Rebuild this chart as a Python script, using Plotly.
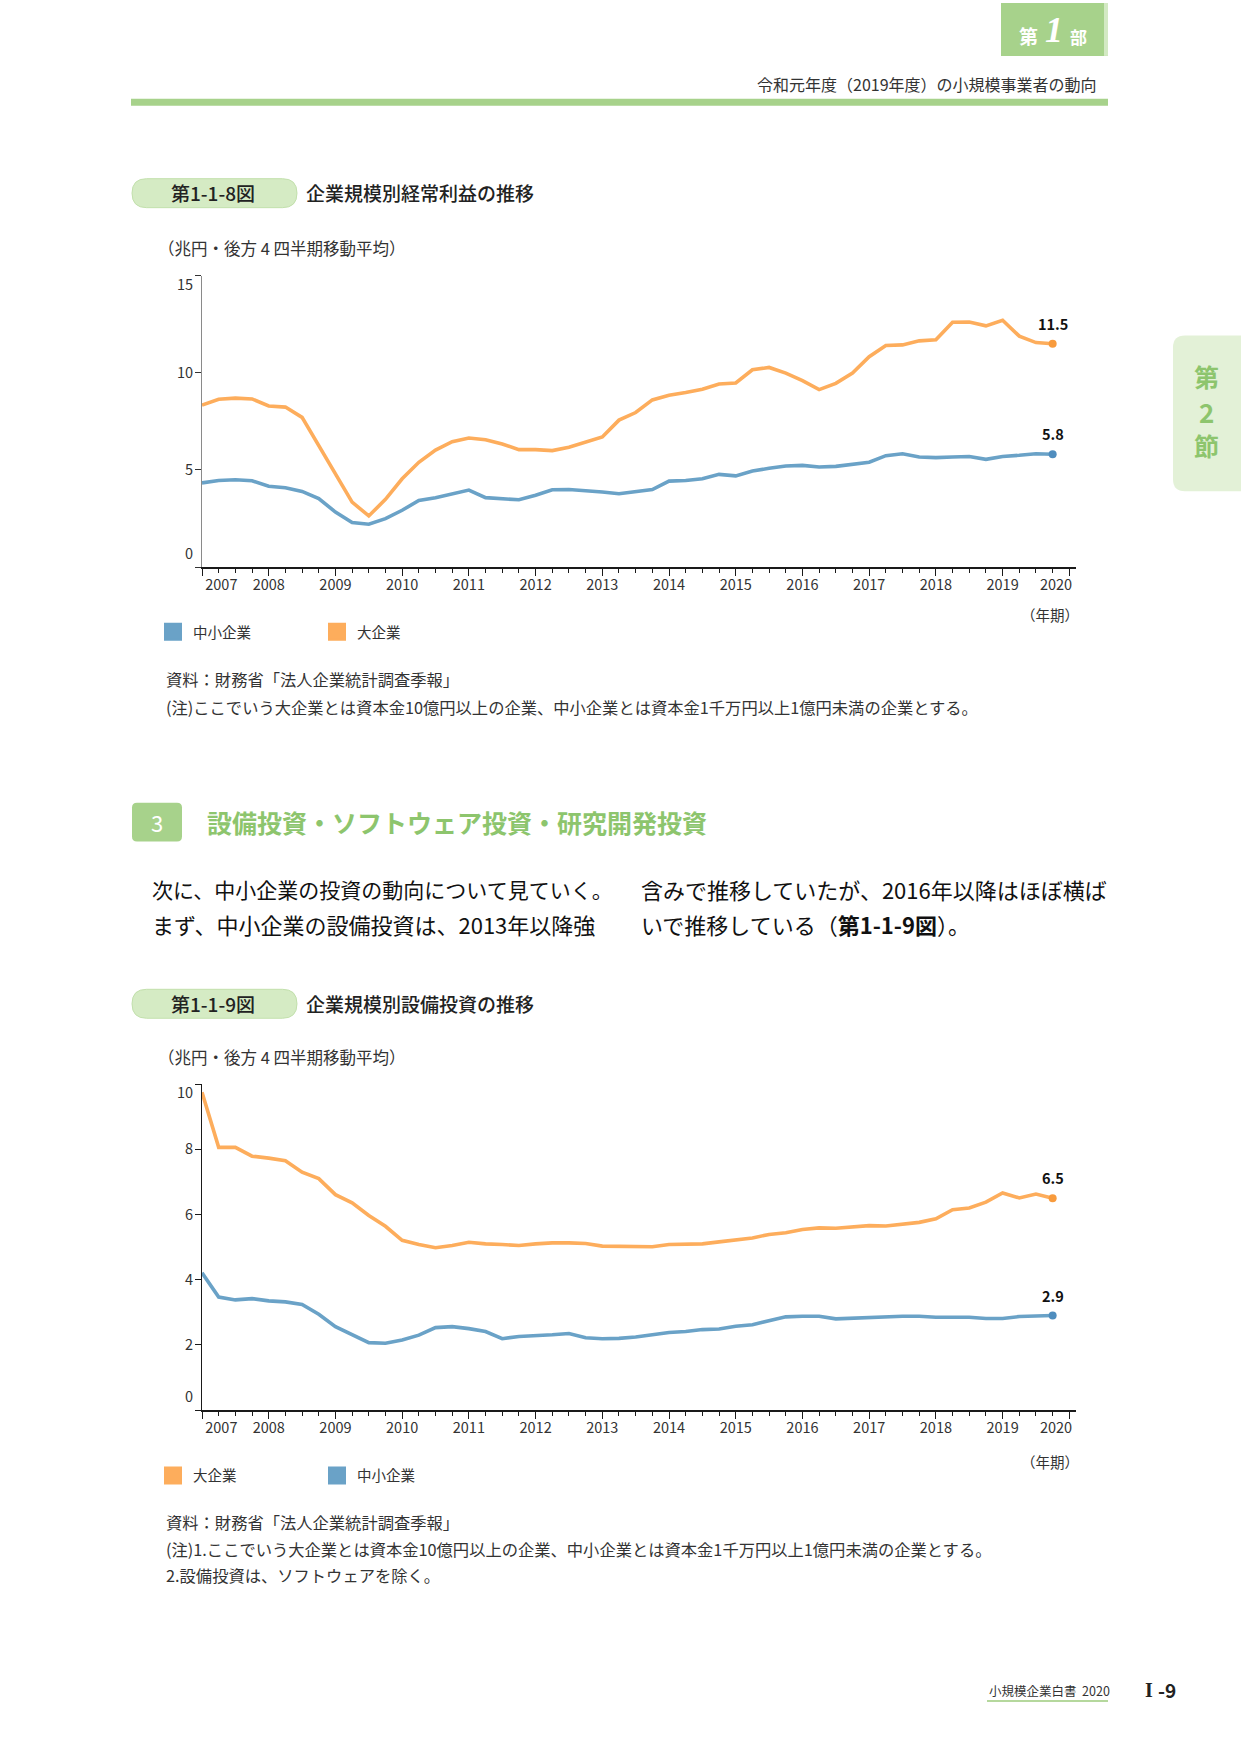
import plotly.graph_objects as go

W, H = 1241, 1754
FONT = "Noto Sans CJK JP, Noto Sans, sans-serif"

# ---------------- data (quarterly, 4-quarter backward moving average, trillion yen) -------------
START_YEAR = 2007
YEAR_LABELS = ["2007", "2008", "2009", "2010", "2011", "2012", "2013",
               "2014", "2015", "2016", "2017", "2018", "2019", "2020"]
NAME_LARGE = "大企業"
NAME_SME = "中小企業"

# 第1-1-8図 経常利益
PROFIT_LARGE = [8.33, 8.63, 8.69, 8.65, 8.29, 8.23, 7.70, 6.25, 4.71, 3.34, 2.63, 3.48, 4.54,
                5.39, 6.02, 6.45, 6.64, 6.55, 6.33, 6.04, 6.04, 5.99, 6.16, 6.42, 6.69, 7.56,
                7.95, 8.60, 8.84, 8.98, 9.15, 9.42, 9.47, 10.15, 10.27, 9.98, 9.59, 9.13, 9.45,
                9.98, 10.82, 11.40, 11.43, 11.64, 11.69, 12.60, 12.61, 12.41, 12.70, 11.88,
                11.55, 11.49]
PROFIT_SME = [4.33, 4.45, 4.49, 4.44, 4.16, 4.08, 3.89, 3.52, 2.83, 2.29, 2.20, 2.49, 2.92,
              3.43, 3.57, 3.77, 3.96, 3.57, 3.52, 3.46, 3.69, 3.98, 3.99, 3.94, 3.86, 3.77,
              3.86, 3.99, 4.42, 4.45, 4.54, 4.77, 4.69, 4.94, 5.08, 5.20, 5.23, 5.15, 5.18,
              5.28, 5.39, 5.73, 5.83, 5.66, 5.63, 5.66, 5.69, 5.54, 5.69, 5.75, 5.83, 5.80]
Y1_TICKS = [0, 5, 10, 15]

# 第1-1-9図 設備投資
CAPEX_LARGE = [9.75, 8.06, 8.06, 7.79, 7.73, 7.65, 7.30, 7.10, 6.61, 6.36, 5.97, 5.64, 5.21,
               5.08, 4.98, 5.05, 5.15, 5.10, 5.08, 5.05, 5.10, 5.13, 5.13, 5.11, 5.03, 5.03,
               5.03, 5.01, 5.08, 5.08, 5.10, 5.16, 5.23, 5.28, 5.39, 5.44, 5.54, 5.59, 5.58,
               5.62, 5.66, 5.65, 5.71, 5.76, 5.87, 6.15, 6.20, 6.38, 6.66, 6.51, 6.63, 6.50]
CAPEX_SME = [4.21, 3.47, 3.38, 3.42, 3.35, 3.32, 3.24, 2.94, 2.56, 2.33, 2.07, 2.05, 2.15,
             2.30, 2.53, 2.56, 2.50, 2.41, 2.19, 2.26, 2.28, 2.31, 2.35, 2.22, 2.19, 2.20,
             2.24, 2.31, 2.38, 2.41, 2.47, 2.49, 2.57, 2.62, 2.74, 2.86, 2.88, 2.88, 2.80,
             2.82, 2.85, 2.85, 2.88, 2.88, 2.85, 2.85, 2.85, 2.81, 2.81, 2.87, 2.88, 2.90]
Y2_TICKS = [0, 2, 4, 6, 8, 10]

# ---------------- styles ----------------
ORANGE = "#FDAD5C"
BLUE = "#6AA2C7"
ORANGE_DOT = "#F89B3D"
BLUE_DOT = "#4F8DBE"
GREEN = "#A7D28B"
GREEN_TEXT = "#8DC56D"
TEXT = "#333333"


def px(x):
    return x / W


def py(y):
    return 1 - y / H


def quarters(values):
    return [START_YEAR + i / 4 for i in range(len(values))]


def rrect(x0, y0, x1, y1, r, right_round=True):
    rr = r if right_round else 0

    def P(x, y):
        return f"{px(x):.5f},{py(y):.5f}"
    d = f"M{P(x0 + r, y0)} L{P(x1 - rr, y0)} "
    if rr:
        d += f"Q{P(x1, y0)} {P(x1, y0 + rr)} "
    d += f"L{P(x1, y1 - rr)} "
    if rr:
        d += f"Q{P(x1, y1)} {P(x1 - rr, y1)} "
    d += f"L{P(x0 + r, y1)} Q{P(x0, y1)} {P(x0, y1 - r)} L{P(x0, y0 + r)} Q{P(x0, y0)} {P(x0 + r, y0)} Z"
    return d


fig = go.Figure()
anns = []

for vals, color, dot, name, ax in [
    (PROFIT_SME, BLUE, BLUE_DOT, NAME_SME, ("x", "y")),
    (PROFIT_LARGE, ORANGE, ORANGE_DOT, NAME_LARGE, ("x", "y")),
    (CAPEX_SME, BLUE, BLUE_DOT, NAME_SME, ("x2", "y2")),
    (CAPEX_LARGE, ORANGE, ORANGE_DOT, NAME_LARGE, ("x2", "y2")),
]:
    xs = quarters(vals)
    fig.add_trace(go.Scatter(x=xs, y=vals, mode="lines", line=dict(color=color, width=3.6),
                             name=name, showlegend=False, xaxis=ax[0], yaxis=ax[1],
                             hoverinfo="skip"))
    fig.add_trace(go.Scatter(x=[xs[-1]], y=[vals[-1]], mode="markers",
                             marker=dict(color=dot, size=8),
                             showlegend=False, xaxis=ax[0], yaxis=ax[1], hoverinfo="skip"))
    anns.append(dict(text=f"{vals[-1]:.1f}", x=xs[-1], y=vals[-1], xref=ax[0], yref=ax[1],
                     showarrow=False, xanchor="center", yanchor="bottom", yshift=8,
                     font=dict(size=14.5, color="#111", family=FONT, weight="bold")))

# legend entries (square swatches)
for name, color, leg in [(NAME_SME, BLUE, "legend"), (NAME_LARGE, ORANGE, "legend"),
                         (NAME_LARGE, ORANGE, "legend2"), (NAME_SME, BLUE, "legend2")]:
    fig.add_trace(go.Scatter(x=[None], y=[None], mode="markers",
                             marker=dict(symbol="square", size=16, color=color,
                                         line=dict(color=color, width=2)),
                             name=name, legend=leg, xaxis="x", yaxis="y", hoverinfo="skip"))

# invisible traces holding the label axes
fig.add_trace(go.Scatter(x=[None], y=[None], xaxis="x3", yaxis="y3", showlegend=False, hoverinfo="skip"))
fig.add_trace(go.Scatter(x=[None], y=[None], xaxis="x4", yaxis="y4", showlegend=False, hoverinfo="skip"))

XR = [2007, 2020.1]
XDOM = [px(202), px(1076)]
Y1DOM = [py(565), py(273)]
Y2DOM = [py(1409.5), py(1083)]

xlab_pos = []
for i, lab in enumerate(YEAR_LABELS):
    v = float(lab)
    if i == 0:
        v += 0.29
    elif i == len(YEAR_LABELS) - 1:
        v -= 0.2
    xlab_pos.append(v)


def ylab_pos(ticks, dom_px):
    per_px = (ticks[-1] - ticks[0]) / dom_px
    out = list(ticks)
    out[0] = ticks[0] + 13 * per_px
    out[-1] = ticks[-1] - 9 * per_px
    return out


tickfont = dict(size=14.5, color=TEXT, family=FONT)

xbase = dict(range=XR, domain=XDOM, showgrid=False, zeroline=False, showline=True,
             linecolor="#1a1a1a", linewidth=2, ticks="outside", ticklen=7, tickwidth=1.3,
             tickcolor="#1a1a1a", tick0=2007, dtick=1, showticklabels=False, fixedrange=True,
             minor=dict(ticks="outside", ticklen=3.5, tickwidth=1, tickcolor="#1a1a1a",
                        dtick=0.25, tick0=2007, showgrid=False))
xlab = dict(range=XR, showgrid=False, zeroline=False, showline=False, ticks="",
            tickmode="array", tickvals=xlab_pos, ticktext=YEAR_LABELS, tickfont=tickfont,
            side="bottom", ticklabelstandoff=7, fixedrange=True)

legbase = dict(orientation="h", x=px(153), xanchor="left", yanchor="middle",
               font=dict(size=14.5, color=TEXT, family=FONT), entrywidth=119,
               entrywidthmode="pixels", bgcolor="rgba(0,0,0,0)", traceorder="normal",
               itemclick=False, itemdoubleclick=False)

fig.update_layout(
    width=W, height=H, autosize=False,
    margin=dict(l=0, r=0, t=0, b=0),
    paper_bgcolor="white", plot_bgcolor="rgba(0,0,0,0)",
    font=dict(family=FONT, color=TEXT),
    xaxis=dict(**xbase, anchor="y"),
    xaxis2=dict(**xbase, anchor="y2"),
    yaxis=dict(domain=Y1DOM, range=[0, 15], anchor="x", showgrid=False, zeroline=False,
               showline=True, linecolor="#8a8a8a", linewidth=1, ticks="outside", ticklen=6,
               tickcolor="#333", tickwidth=1, tickmode="array", tickvals=Y1_TICKS,
               showticklabels=False, fixedrange=True),
    yaxis2=dict(domain=Y2DOM, range=[0, 10], anchor="x2", showgrid=False, zeroline=False,
                showline=True, linecolor="#1a1a1a", linewidth=1.4, ticks="outside", ticklen=6,
                tickcolor="#1a1a1a", tickwidth=1.2, tickmode="array", tickvals=Y2_TICKS,
                showticklabels=False, fixedrange=True),
    xaxis3=dict(**xlab, overlaying="x", anchor="y3"),
    yaxis3=dict(range=[0, 15], overlaying="y", anchor="x3", side="left", showgrid=False,
                zeroline=False, showline=False, ticks="", tickmode="array",
                tickvals=ylab_pos(Y1_TICKS, 292), ticktext=[str(t) for t in Y1_TICKS],
                tickfont=tickfont, ticklabelstandoff=8, fixedrange=True),
    xaxis4=dict(**xlab, overlaying="x2", anchor="y4"),
    yaxis4=dict(range=[0, 10], overlaying="y2", anchor="x4", side="left", showgrid=False,
                zeroline=False, showline=False, ticks="", tickmode="array",
                tickvals=ylab_pos(Y2_TICKS, 326.5), ticktext=[str(t) for t in Y2_TICKS],
                tickfont=tickfont, ticklabelstandoff=8, fixedrange=True),
    legend=dict(**legbase, y=py(630)),
    legend2=dict(**legbase, y=py(1475)),
)

shapes = []
shapes.append(dict(type="rect", xref="paper", yref="paper", x0=px(1001), x1=px(1108),
                   y0=py(53), y1=py(0), fillcolor=GREEN, line=dict(width=0), layer="below"))
shapes.append(dict(type="rect", xref="paper", yref="paper", x0=px(1104), x1=px(1108),
                   y0=py(53), y1=py(0), fillcolor="#D3E9C3", line=dict(width=0), layer="below"))
shapes.append(dict(type="rect", xref="paper", yref="paper", x0=px(131), x1=px(1108),
                   y0=py(103), y1=py(96), fillcolor=GREEN, line=dict(width=0), layer="below"))
for y0 in (176, 988):
    shapes.append(dict(type="path", xref="paper", yref="paper",
                       path=rrect(132, y0, 297, y0 + 29, 14.5),
                       fillcolor="#D5EBC4", line=dict(color="#C2E0AC", width=1), layer="below"))
shapes.append(dict(type="path", xref="paper", yref="paper", path=rrect(132, 801, 182, 840, 5),
                   fillcolor=GREEN, line=dict(width=0), layer="below"))
shapes.append(dict(type="path", xref="paper", yref="paper",
                   path=rrect(1173, 333, 1241, 489, 12, right_round=False),
                   fillcolor="#E3F1D7", line=dict(width=0), layer="below"))
shapes.append(dict(type="line", xref="paper", yref="paper", x0=px(987), x1=px(1108),
                   y0=py(1701), y1=py(1701), line=dict(color="#9CCB7C", width=1.5)))
fig.update_layout(shapes=shapes)


def A(text, x, y, size, color=TEXT, xanchor="left", weight="normal", family=FONT, style="normal"):
    anns.append(dict(text=text, x=px(x), y=py(y), xref="paper", yref="paper", showarrow=False,
                     xanchor=xanchor, yanchor="middle",
                     font=dict(size=size, color=color, family=family, weight=weight, style=style)))


# header
A("令和元年度（2019年度）の小規模事業者の動向", 1099, 81, 16, xanchor="right")
A("第", 1028, 33, 19, color="white", xanchor="center", weight="bold")
A("1", 1054, 27, 36, color="white", xanchor="center", weight="bold",
  family="Liberation Serif, serif", style="italic")
A("部", 1078, 34, 17, color="white", xanchor="center", weight="bold")

# chart 1 texts
A("第1-1-8図", 213, 190, 19, color="#222", xanchor="center", weight=500)
A("企業規模別経常利益の推移", 304, 190, 19, color="#222", weight=500)
A("（兆円・後方 4 四半期移動平均）", 156, 245, 16.5)
A("（年期）", 1081, 613, 14.5, xanchor="right")
A("資料：財務省「法人企業統計調査季報」", 164, 677, 16.3)
A("(注)ここでいう大企業とは資本金10億円以上の企業、中小企業とは資本金1千万円以上1億円未満の企業とする。",
  164, 705, 16.3)

# section 3
A("3", 157, 820.5, 22, color="white", xanchor="center")
A("設備投資・ソフトウェア投資・研究開発投資", 205, 820, 25, color=GREEN_TEXT, weight="bold")
A("次に、中小企業の投資の動向について見ていく。", 150, 888, 21, color="#111")
A("まず、中小企業の設備投資は、2013年以降強", 150, 923, 22, color="#111")
A("含みで推移していたが、2016年以降はほぼ横ば", 639, 888, 22, color="#111")
A("いで推移している（<b>第1-1-9図</b>）。", 639, 923, 22, color="#111")

# chart 2 texts
A("第1-1-9図", 213, 1002, 19, color="#222", xanchor="center", weight=500)
A("企業規模別設備投資の推移", 304, 1002, 19, color="#222", weight=500)
A("（兆円・後方 4 四半期移動平均）", 156, 1056, 16.5)
A("（年期）", 1081, 1461, 14.5, xanchor="right")
A("資料：財務省「法人企業統計調査季報」", 164, 1522, 16.3)
A("(注)1.ここでいう大企業とは資本金10億円以上の企業、中小企業とは資本金1千万円以上1億円未満の企業とする。",
  164, 1549, 16.3)
A("2.設備投資は、ソフトウェアを除く。", 164, 1575, 16.3)

# right tab
A("第", 1206, 374, 25, color=GREEN_TEXT, xanchor="center", weight="bold")
A("2", 1206, 409, 26, color=GREEN_TEXT, xanchor="center", weight="bold")
A("節", 1206, 443, 25, color=GREEN_TEXT, xanchor="center", weight="bold")

# footer
A("小規模企業白書  2020", 987, 1690, 12.5)
A("I", 1149, 1690, 20, color="#222", xanchor="center", weight="bold",
  family="Liberation Serif, serif")
A("-9", 1167, 1689, 19, color="#222", xanchor="center", weight="bold")

fig.update_layout(annotations=anns)

fig.write_html("out.html")
